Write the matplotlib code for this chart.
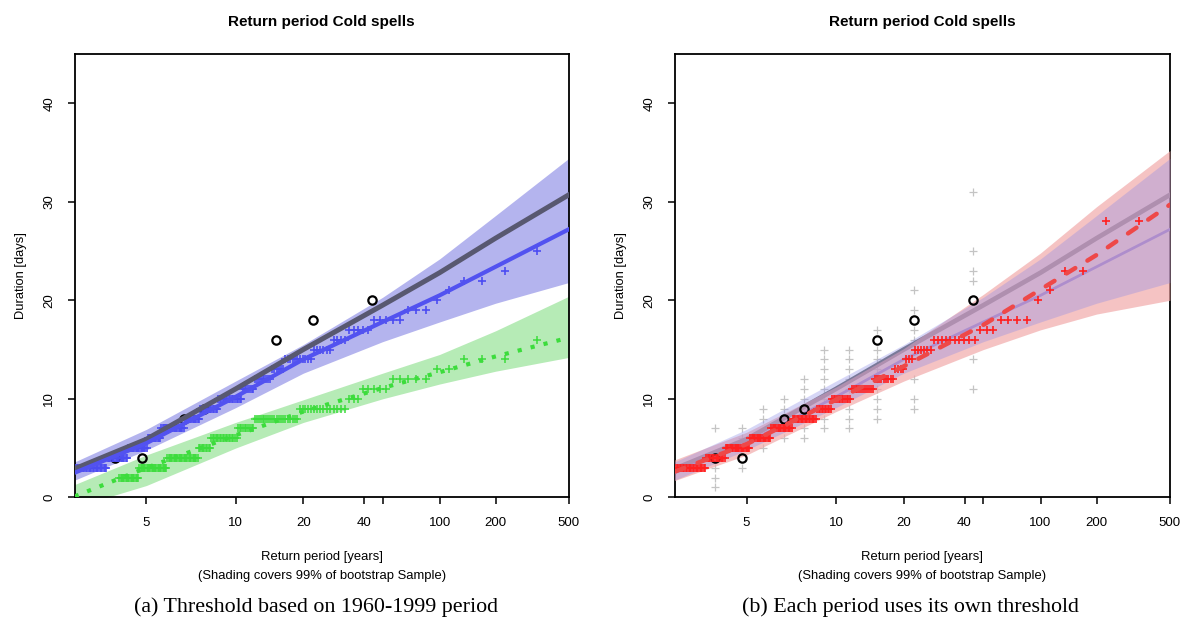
import matplotlib
matplotlib.use('Agg')
import matplotlib.pyplot as plt
from matplotlib.ticker import NullLocator
import numpy as np

plt.rcParams['font.family'] = ['Liberation Sans', 'DejaVu Sans']

# empirical return periods: pooled record of ~676 years, rank 1 lies beyond 500 years
sample_years = 676

# durations of the ranked events (level, how many events at that level)
blue_levels = [25, 23, 22, 21, 20, 19, 18, 17, 16, 15, 14, 13, 12, 11, 10, 9, 8, 7, 6, 5, 4, 3]
blue_counts = [1, 1, 2, 1, 1, 3, 5, 5, 4, 6, 11, 6, 9, 7, 16, 13, 12, 19, 11, 16, 16, 23]

green_levels = [16, 14, 13, 12, 11, 10, 9, 8, 7, 6, 5, 4, 3, 2]
green_counts = [1, 3, 2, 5, 5, 3, 15, 21, 10, 18, 9, 25, 23, 16]

red_levels = [28, 23, 21, 20, 18, 17, 16, 15, 14, 13, 12, 11, 10, 9, 8, 7, 6, 5, 4, 3]
red_counts = [2, 2, 1, 1, 4, 3, 10, 6, 3, 4, 9, 12, 12, 10, 18, 17, 17, 20, 15, 22]

# observed spells (circles)
obs_T = [44.1, 22.3, 15.0, 7.55, 6.45, 4.87, 4.21]
obs_dur = [20, 18, 16, 9, 8, 4, 4]

# spread of the other periods at the observed return periods (grey crosses)
spread_T = [44.1, 22.3, 15.0, 11.3, 9.0, 7.55, 6.45, 5.56, 4.87, 4.21]
spread_vals = [[31, 25, 23, 22, 14, 11], [21, 19, 17, 16, 12, 10, 9],
               [17, 15, 14, 13, 12, 11, 10, 9, 8], [15, 14, 13, 12, 11, 10, 9, 8, 7],
               [15, 14, 13, 12, 11, 10, 9, 8, 7], [12, 11, 10, 9, 7, 6], [10, 9, 7, 6],
               [9, 8, 5], [7, 6, 3], [7, 3, 2, 1]]

# fitted return level curves and 99% bootstrap bands
node_T = [3.57, 5, 10, 20, 50, 100, 200, 500]
gray_fit = [2.9, 5.9, 11.0, 15.0, 19.5, 22.8, 26.3, 30.7]
blue_fit = [2.5, 5.5, 10.2, 14.0, 17.8, 20.5, 23.4, 27.2]
blue_lo = [1.75, 4.8, 9.1, 12.6, 15.8, 17.8, 19.7, 21.8]
blue_hi = [3.6, 6.9, 11.8, 15.5, 20.3, 24.2, 28.6, 34.4]
green_fit = [0.1, 3.0, 6.3, 8.7, 11.1, 12.7, 14.3, 16.2]
green_lo = [-1.0, 1.2, 5.0, 7.6, 10.0, 11.5, 12.8, 14.2]
green_hi = [1.3, 4.3, 7.6, 9.9, 12.6, 14.5, 16.9, 20.4]
red_fit = [2.6, 5.4, 9.9, 13.3, 17.5, 21.1, 24.6, 29.7]
red_lo = [1.7, 4.3, 8.7, 11.8, 15.0, 17.0, 18.6, 20.0]
red_hi = [3.8, 6.6, 11.2, 15.1, 20.6, 24.8, 29.5, 35.2]

xticks = [5, 10, 20, 40, 50, 100, 200, 500]
xtick_labels = ['5', '10', '20', '40', '', '100', '200', '500']


def fwd(t):
    return np.log10(np.maximum(np.asarray(t, dtype=float) - 2.6, 1e-6))


def inv(u):
    return 10 ** np.asarray(u, dtype=float) + 2.6


def ranked(levels, counts):
    # largest event has rank 1 (off the chart), so plotted ranks start at 2
    vals = np.repeat(levels, counts)
    ranks = np.arange(2, 2 + len(vals))
    return sample_years / ranks, vals


def style_axis(ax):
    ax.set_xscale('function', functions=(fwd, inv))
    ax.set_xlim(3.57, 500)
    ax.set_ylim(0, 45)
    ax.set_xticks(xticks)
    ax.set_xticklabels(xtick_labels)
    ax.xaxis.set_minor_locator(NullLocator())
    ax.set_yticks([0, 10, 20, 30, 40])
    ax.set_yticklabels(['0', '10', '20', '30', '40'], rotation=90, va='center')
    ax.tick_params(length=5, width=1.1, pad=9, labelsize=9.5)
    for s in ax.spines.values():
        s.set_linewidth(1.3)
    ax.set_title('Return period Cold spells', fontweight='bold', fontsize=11, pad=20)
    ax.set_ylabel('Duration [days]', fontsize=9.3, labelpad=12)
    ax.text(0.5, -0.1347, 'Return period [years]', transform=ax.transAxes,
            ha='center', va='center', fontsize=9.4)
    ax.text(0.5, -0.1775, '(Shading covers 99% of bootstrap Sample)', transform=ax.transAxes,
            ha='center', va='center', fontsize=9.4)


blue_rp, blue_pts = ranked(blue_levels, blue_counts)
green_rp, green_pts = ranked(green_levels, green_counts)
red_rp, red_pts = ranked(red_levels, red_counts)

fig = plt.figure(figsize=(11.88, 6.24), dpi=100)
axL = fig.add_axes([0.0629, 0.203, 0.4158, 0.7105])
axR = fig.add_axes([0.5679, 0.203, 0.4169, 0.7105])

# Left panel: threshold from 1960-1999
axL.fill_between(node_T, green_lo, green_hi, color='#b6ebb6', lw=0, zorder=1)
axL.fill_between(node_T, blue_lo, blue_hi, color='#b4b4ee', lw=0, zorder=1)
axL.plot(obs_T, obs_dur, ls='none', marker='o', ms=6, mfc='none', mec='black', mew=1.6, zorder=2)
axL.plot(green_rp, green_pts, ls='none', marker='+', ms=5.5, mew=1.1, color='#3cdc3c', zorder=3)
axL.plot(node_T, green_fit, color='#3cdc3c', lw=3, ls=(0, (1, 2.2)), zorder=3)
axL.plot(blue_rp, blue_pts, ls='none', marker='+', ms=5.5, mew=1.2, color='#4c4cf2', zorder=3)
axL.plot(node_T, gray_fit, color='#585870', lw=3.6, zorder=4)
axL.plot(node_T, blue_fit, color='#5252f0', lw=3, zorder=4)
style_axis(axL)

# Right panel: each period with its own threshold
for t, vals in zip(spread_T, spread_vals):
    axR.plot([t] * len(vals), vals, ls='none', marker='+', ms=5.5, mew=0.9, color='#c4c4c4', zorder=1)
axR.plot(node_T, gray_fit, color='#707070', lw=3.4, zorder=3)
axR.plot(node_T, blue_fit, color='#6a6af0', lw=2, zorder=3)
axR.fill_between(node_T, red_lo, red_hi, color='#f0a4a4', alpha=0.65, lw=0, zorder=4)
axR.fill_between(node_T, blue_lo, blue_hi, color='#8c8ce8', alpha=0.35, lw=0, zorder=4)
axR.plot(obs_T, obs_dur, ls='none', marker='o', ms=6, mfc='none', mec='black', mew=1.6, zorder=4.5)
axR.plot(red_rp, red_pts, ls='none', marker='+', ms=5.5, mew=1.2, color='#ff2020', zorder=5)
axR.plot(node_T, red_fit, color='#ee4848', lw=3.2, ls=(0, (2.3, 3.2)),
         dash_capstyle='round', zorder=5)
style_axis(axR)

fig.text(316 / 1188, 1 - 607 / 624, '(a) Threshold based on 1960-1999 period',
         family=['Liberation Serif', 'DejaVu Serif'], fontsize=15.8, ha='center', va='center')
fig.text(910 / 1188, 1 - 607 / 624, '(b) Each period uses its own threshold',
         family=['Liberation Serif', 'DejaVu Serif'], fontsize=15.8, ha='center', va='center')

fig.savefig('out.png', dpi=100)
